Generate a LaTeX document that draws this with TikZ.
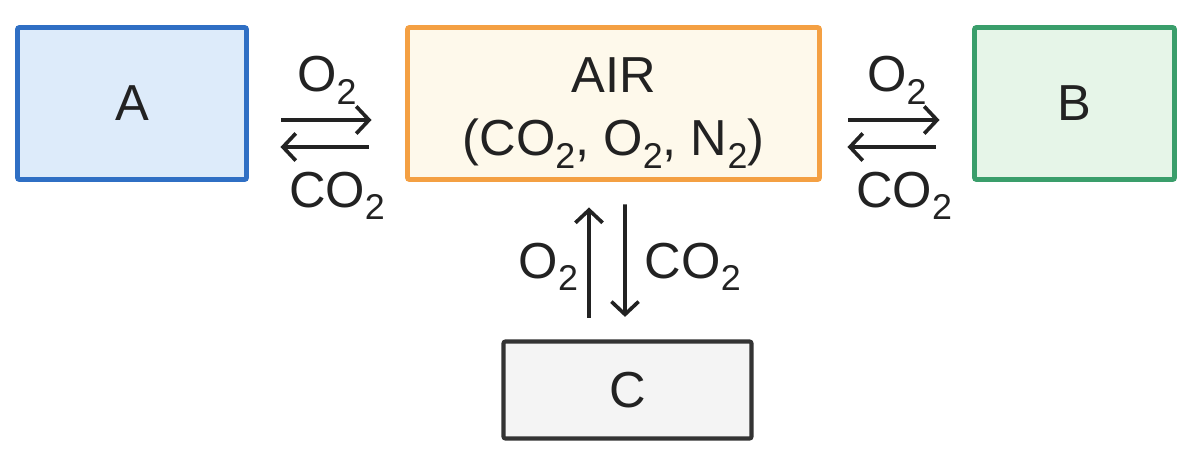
\documentclass[tikz,border=0pt]{standalone}
\usepackage{fontspec}
\setmainfont{Liberation Sans}
\usepackage{tikz}
\usetikzlibrary{arrows.meta}
\definecolor{bluebd}{HTML}{2F6FC4}
\definecolor{bluefl}{HTML}{DDEBFA}
\definecolor{orangebd}{HTML}{F4A043}
\definecolor{orangefl}{HTML}{FEF9EB}
\definecolor{greenbd}{HTML}{3A9E6B}
\definecolor{greenfl}{HTML}{E6F5E8}
\definecolor{graybd}{HTML}{333333}
\definecolor{grayfl}{HTML}{F4F4F4}
\definecolor{ink}{HTML}{222222}
\newcommand{\low}[1]{\raisebox{-0.25em}{\fontsize{25.5}{26}\selectfont #1}}

\begin{document}
\begin{tikzpicture}[
  font=\fontsize{36}{45}\selectfont, text=ink,
  box/.style={draw, line width=3.5pt, rounded corners=1.5pt, inner sep=0, minimum height=3.8cm, align=center},
  arr/.style={draw=ink, line width=2.6pt, -{Straight Barb[length=0.32cm, width=0.68cm, line width=2.6pt]}},
  lab/.style={inner sep=0}]
\useasboundingbox (0,0) rectangle (30,-11.6);
\node[box, draw=bluebd, fill=bluefl, minimum width=5.725cm] (A) at (3.3,-2.5875) {A};
\node[box, draw=orangebd, fill=orangefl, minimum width=10.3cm] (air) at (15.3375,-2.5875)
  {\begin{tabular}{@{}c@{}}\rule{0pt}{43pt}AIR\\(CO\low{2}, O\low{2}, N\low{2})\end{tabular}};
\node[box, draw=greenbd, fill=greenfl, minimum width=5cm] (B) at (26.8625,-2.5875) {B};
\node[box, draw=graybd, fill=grayfl, line width=3pt, minimum width=6.2cm, minimum height=2.425cm] (C) at (15.6875,-9.75) {C};
% A <-> air
\draw[arr, shorten <=0.8125cm, shorten >=0.8375cm] ([yshift=-0.4125cm]A.east) -- node[lab, above=0.35cm] {O\low{2}} ([yshift=-0.4125cm]air.west);
\draw[arr, shorten <=0.9125cm, shorten >=0.7875cm] ([yshift=-1.0875cm]air.west) -- node[lab, below=0.575cm, xshift=0.25cm] {CO\low{2}} ([yshift=-1.0875cm]A.east);
% air <-> B
\draw[arr, shorten <=0.6625cm, shorten >=0.8125cm] ([yshift=-0.4125cm]air.east) -- node[lab, above=0.35cm] {O\low{2}} ([yshift=-0.4125cm]B.west);
\draw[arr, shorten <=0.9125cm, shorten >=0.6375cm] ([yshift=-1.0875cm]B.west) -- node[lab, below=0.575cm, xshift=0.175cm] {CO\low{2}} ([yshift=-1.0875cm]air.east);
% C <-> air
\draw[arr, shorten <=0.5375cm, shorten >=0.6375cm] ([xshift=-0.9625cm]C.north) -- node[lab, left=0.225cm, yshift=-0.15cm] {O\low{2}} ([xshift=-0.6125cm]air.south);
\draw[arr, shorten <=0.5625cm, shorten >=0.5625cm] ([xshift=0.2875cm]air.south) -- node[lab, right=0.45cm, yshift=-0.15cm] {CO\low{2}} ([xshift=-0.0625cm]C.north);
\end{tikzpicture}
\end{document}
